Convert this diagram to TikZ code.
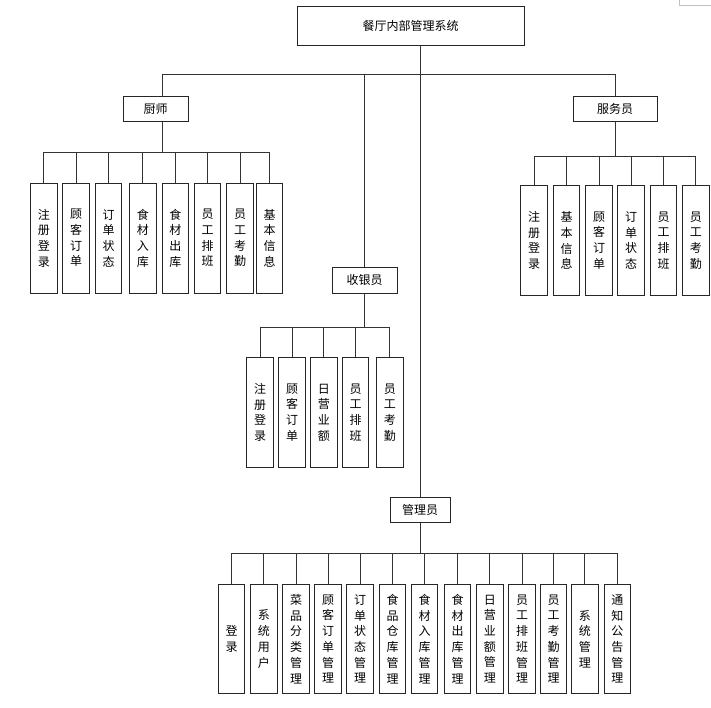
\documentclass[tikz,border=0pt]{standalone}
\usepackage{fontspec}
\newfontfamily\cjk{Noto Sans CJK SC}
\begin{document}
\begin{tikzpicture}[x=1pt,y=-1pt,
  box/.style={draw=black!85,line width=1pt,inner sep=0pt,align=center,
    font=\cjk\fontsize{12}{15.7}\selectfont},
  role/.style={box,minimum height=25pt},
  leaf/.style={box,minimum width=26.5pt,minimum height=109.5pt},
  link/.style={draw=black!80,line width=0.8pt}]
\useasboundingbox (0,0) rectangle (711,707);
% corner mark
\draw[black!25,line width=0.6pt] (679,0) -- (679,5) -- (711,5);

% root and role boxes
\node[box,minimum width=227pt,minimum height=39pt] (root) at (410.5,25.5) {餐厅内部管理系统};
\node[role,minimum width=65pt] (chef) at (155.5,108.5) {厨师};
\node[role,minimum width=84pt] (waiter) at (615,108.5) {服务员};
\node[role,minimum width=65pt,minimum height=26pt] (cash) at (364.5,280) {收银员};
\node[role,minimum width=60pt] (mgr) at (420,509.5) {管理员};

% chef leaves
\foreach \n/\x/\t in {1/43.8/注\\册\\登\\录, 2/76.2/顾\\客\\订\\单, 3/108.7/订\\单\\状\\态,
  4/142.8/食\\材\\入\\库, 5/175.3/食\\材\\出\\库, 6/207.5/员\\工\\排\\班,
  7/240/员\\工\\考\\勤, 8/269.5/基\\本\\信\\息}
  \node[leaf,minimum height=110pt] (c\n) at (\x,238) {\t};

% waiter leaves
\foreach \n/\x/\t in {1/534.2/注\\册\\登\\录, 2/566.5/基\\本\\信\\息, 3/599/顾\\客\\订\\单,
  4/631.2/订\\单\\状\\态, 5/663.5/员\\工\\排\\班, 6/695.8/员\\工\\考\\勤}
  \node[leaf] (w\n) at (\x,240.5) {\t};

% cashier leaves
\foreach \n/\x/\t in {1/260/注\\册\\登\\录, 2/292.2/顾\\客\\订\\单, 3/323.8/日\\营\\业\\额,
  4/355.5/员\\工\\排\\班, 5/389.8/员\\工\\考\\勤}
  \node[leaf] (s\n) at (\x,412.5) {\t};

% manager leaves
\foreach \n/\x/\t in {1/231.7/登\\录, 2/263.8/系\\统\\用\\户, 3/296/菜\\品\\分\\类\\管\\理,
  4/328.2/顾\\客\\订\\单\\管\\理, 5/360.2/订\\单\\状\\态\\管\\理, 6/392.5/食\\品\\仓\\库\\管\\理,
  7/424.7/食\\材\\入\\库\\管\\理, 8/457.5/食\\材\\出\\库\\管\\理, 9/489.8/日\\营\\业\\额\\管\\理,
  10/522.2/员\\工\\排\\班\\管\\理, 11/553.5/员\\工\\考\\勤\\管\\理, 12/584.8/系\\统\\管\\理,
  13/617.3/通\\知\\公\\告\\管\\理}
  \node[leaf] (m\n) at (\x,639) {\t};

% top level connectors
\coordinate (topbus) at (0,74);
\coordinate (chefin) at ([xshift=6.5pt]chef.north);
\draw[link] (topbus -| chefin) -- (topbus -| waiter.north);
\draw[link] (topbus -| chefin) -- (chefin);
\draw[link] (topbus -| waiter.north) -- (waiter.north);
\draw[link] (topbus -| cash.north) -- (cash.north);
\draw[link] (root.south -| mgr.north) -- (mgr.north);

% chef branch
\coordinate (cbus) at (0,152);
\draw[link] (chefin |- chef.south) -- (cbus -| chefin);
\draw[link] (cbus -| c1.north) -- (cbus -| c8.north);
\foreach \n in {1,...,8} \draw[link] (cbus -| c\n.north) -- (c\n.north);

% waiter branch
\coordinate (wbus) at (0,156);
\draw[link] (waiter.south) -- (wbus -| waiter.south);
\draw[link] (wbus -| w1.north) -- (wbus -| w6.north);
\foreach \n in {1,...,6} \draw[link] (wbus -| w\n.north) -- (w\n.north);

% cashier branch
\coordinate (sbus) at (0,327);
\draw[link] (cash.south) -- (sbus -| cash.south);
\draw[link] (sbus -| s1.north) -- (sbus -| s5.north);
\foreach \n in {1,...,5} \draw[link] (sbus -| s\n.north) -- (s\n.north);

% manager branch
\coordinate (mbus) at (0,553);
\draw[link] (mgr.south) -- (mbus -| mgr.south);
\draw[link] (mbus -| m1.north) -- (mbus -| m13.north);
\foreach \n in {1,...,13} \draw[link] (mbus -| m\n.north) -- (m\n.north);
\end{tikzpicture}
\end{document}
